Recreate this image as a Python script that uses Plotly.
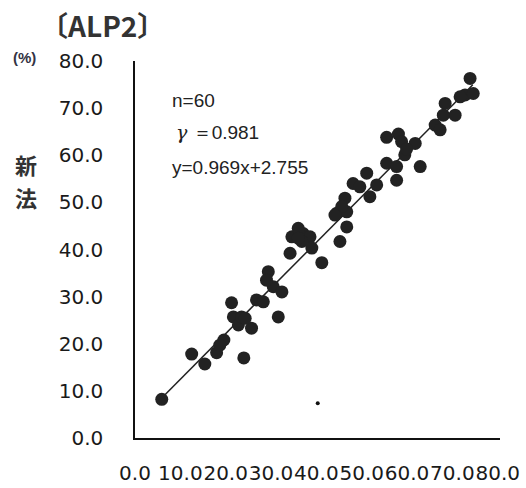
import plotly.graph_objects as go

# data
old_method = [5.9, 12.5, 15.4, 18.0, 19.6, 24.0, 21.3, 21.7, 22.8, 25.7,
              23.5, 26.8, 28.3, 29.4, 30.5, 32.4, 31.6, 34.6, 34.2, 37.1,
              38.6, 36.8, 39.0, 41.2, 44.5, 46.3, 46.7, 46.7, 45.2, 48.1,
              49.6, 51.1, 51.8, 53.3, 55.5, 57.7, 57.7, 55.5, 58.1, 58.8,
              59.5, 61.8, 62.9, 66.2, 67.3, 68.4, 70.6, 68.0, 73.9, 72.8,
              74.6, 45.6, 36.0, 29.0, 59.9, 18.7, 24.3, 36.0, 71.7, 44.1]
new_method = [8.2, 17.8, 15.7, 18.1, 20.8, 17.0, 28.7, 25.7, 24.0, 23.3,
              25.7, 29.3, 28.9, 35.3, 32.1, 31.0, 25.7, 42.7, 39.2, 43.4,
              42.7, 41.7, 40.3, 37.2, 47.7, 50.9, 48.0, 44.8, 41.7, 54.0,
              53.3, 56.2, 51.2, 53.7, 58.3, 57.6, 54.7, 63.8, 64.5, 62.9,
              60.1, 62.5, 57.6, 66.4, 65.4, 71.0, 68.5, 68.5, 76.3, 72.8,
              73.1, 49.1, 44.5, 33.5, 61.3, 19.7, 25.4, 42.4, 72.4, 47.3]
slope = 0.969
intercept = 2.755
fit_x = [5.9, 74.5]
stray_x = [40.3]
stray_y = [7.4]
tick_vals = [0, 10, 20, 30, 40, 50, 60, 70, 80]
tick_text = ["0.0", "10.0", "20.0", "30.0", "40.0", "50.0", "60.0", "70.0", "80.0"]

fit_y = [slope * v + intercept for v in fit_x]

fig = go.Figure()
fig.add_trace(go.Scatter(x=fit_x, y=fit_y, mode="lines",
                         line=dict(color="#222222", width=1.5), hoverinfo="skip"))
fig.add_trace(go.Scatter(x=old_method, y=new_method, mode="markers",
                         marker=dict(size=13, color="#222222")))
fig.add_trace(go.Scatter(x=stray_x, y=stray_y, mode="markers",
                         marker=dict(size=4, color="#111111")))

tick_font = dict(family="DejaVu Sans", size=20, color="#1a1a1a")
fig.update_xaxes(range=[0, 80.5], tickvals=tick_vals, ticktext=tick_text,
                 showgrid=False, zeroline=False, showline=True,
                 linecolor="#111111", linewidth=1.5, ticks="",
                 tickfont=tick_font, ticklabelstandoff=16, tickangle=0,
                 automargin=False)
fig.update_yaxes(range=[0, 80], tickvals=tick_vals, ticktext=tick_text,
                 showgrid=False, zeroline=False, showline=True,
                 linecolor="#111111", linewidth=1.5, ticks="",
                 tickfont=tick_font, ticklabelstandoff=26, automargin=False)

ann_font = dict(family="Liberation Sans", size=19, color="#222222")
annotations = [
    dict(x=7.7, y=71.7, xref="x", yref="y", text="n=60", showarrow=False,
         xanchor="left", yanchor="middle", font=ann_font),
    dict(x=8.6, y=64.9, xref="x", yref="y",
         text="<span style='font-family:DejaVu Serif'><i>γ</i></span> ＝0.981",
         showarrow=False, xanchor="left", yanchor="middle", font=ann_font),
    dict(x=7.7, y=57.5, xref="x", yref="y", text="y=0.969x+2.755", showarrow=False,
         xanchor="left", yanchor="middle", font=ann_font),
    dict(x=-0.09, y=1.095, xref="paper", yref="paper", text="<b>〔ALP2〕</b>",
         showarrow=False, xanchor="center", yanchor="middle",
         font=dict(family="Noto Sans CJK JP", size=28, color="#333333")),
    dict(x=-0.302, y=1.0085, xref="paper", yref="paper", text="<b>(%)</b>",
         showarrow=False, xanchor="center", yanchor="middle",
         font=dict(family="Liberation Sans", size=15, color="#333344")),
    dict(x=-0.298, y=0.727, xref="paper", yref="paper", text="<b>新</b>",
         showarrow=False, xanchor="center", yanchor="middle",
         font=dict(family="Noto Sans CJK JP", size=22, color="#333333")),
    dict(x=-0.298, y=0.64, xref="paper", yref="paper", text="<b>法</b>",
         showarrow=False, xanchor="center", yanchor="middle",
         font=dict(family="Noto Sans CJK JP", size=22, color="#333333")),
]

fig.update_layout(width=526, height=488, showlegend=False,
                  margin=dict(l=135, r=26, t=61, b=50),
                  plot_bgcolor="white", paper_bgcolor="white",
                  annotations=annotations)

fig.write_html("out.html")
